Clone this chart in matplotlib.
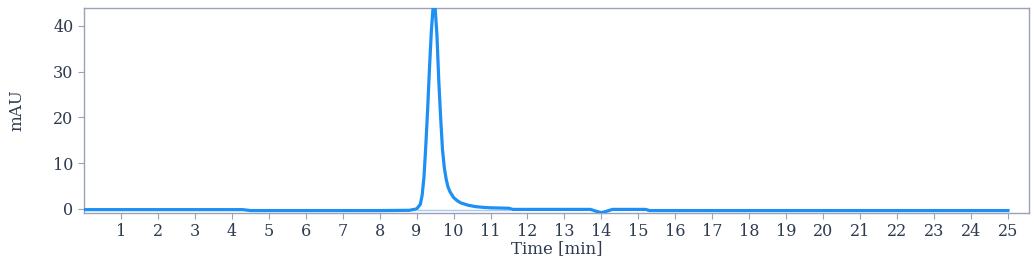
import numpy as np
import matplotlib.pyplot as plt

# Chromatogram trace (time in min, signal in mAU)
time_min = [0.0, 4.3, 4.5, 8.0, 8.8, 9.0, 9.1, 9.15, 9.2, 9.25, 9.3, 9.35, 9.4,
            9.45, 9.5, 9.55, 9.6, 9.65, 9.7, 9.75, 9.8, 9.85, 9.9, 10.0, 10.1,
            10.2, 10.4, 10.6, 10.8, 11.0, 11.5, 11.6, 13.7, 13.9, 14.0, 14.1,
            14.3, 15.2, 15.3, 25.0]
signal_mau = [-0.15, -0.15, -0.35, -0.35, -0.3, 0.0, 1.0, 3.0, 7.0, 14.0, 22.0,
              31.0, 39.0, 44.5, 44.0, 38.0, 28.0, 20.0, 13.0, 9.0, 6.5, 4.8, 3.8,
              2.5, 1.8, 1.3, 0.8, 0.5, 0.35, 0.25, 0.15, -0.1, -0.1, -0.6, -0.8,
              -0.6, -0.1, -0.1, -0.35, -0.35]

# integration baseline under the peak
base_t = [9.05, 11.5]
base_y = [-0.2, -0.2]

x_ticks = list(range(1, 26))
y_ticks = [0, 10, 20, 30, 40]

text_col = '#2e3a4f'
spine_col = '#9aa2b8'

plt.rcParams['font.family'] = ['DejaVu Serif']

fig = plt.figure(figsize=(10.34, 2.66), dpi=100)
ax = fig.add_axes([0.0812, 0.199, 0.914, 0.771])

ax.plot(base_t, base_y, color='#a9c8ec', lw=1.0, zorder=2)
ax.plot(time_min, signal_mau, color='#1e8ff5', lw=2.3, zorder=3)

ax.set_xlim(0, 25.57)
ax.set_ylim(-0.9, 43.9)
ax.set_xticks(x_ticks)
ax.set_yticks(y_ticks)

for s in ax.spines.values():
    s.set_color(spine_col)
    s.set_linewidth(1.0)

ax.tick_params(colors=spine_col, labelcolor=text_col, labelsize=11.5, length=4)
ax.set_xlabel('Time [min]', color=text_col, fontsize=12, labelpad=0)
ax.set_ylabel('mAU', color=text_col, fontsize=12, labelpad=20)

fig.savefig('out.png', dpi=100)
